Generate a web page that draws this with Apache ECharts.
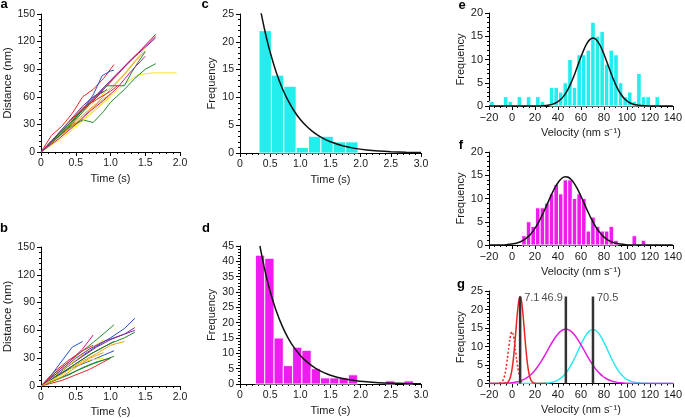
<!DOCTYPE html>
<html><head><meta charset="utf-8">
<script src="https://cdn.jsdelivr.net/npm/echarts@6/dist/echarts.min.js"></script>
<style>html,body{margin:0;padding:0;background:#fff}#c{width:685px;height:418px}</style>
</head><body><div id="c"></div>
<script>
// ---------------- data ----------------
// panel a: distance vs time traces [t (s), distance (nm)]
const aTraces = [
  [[0,0],[0.15,18],[0.3,28],[0.45,42],[0.6,60],[0.75,68],[0.9,80],[1.05,95]],
  [[0,0],[0.2,15],[0.4,30],[0.6,45],[0.8,60],[1.0,76],[1.2,92],[1.4,108],[1.55,120],[1.65,128]],
  [[0,0],[0.2,14],[0.4,30],[0.6,47],[0.8,62],[1.0,78],[1.2,93],[1.4,107],[1.65,124]],
  [[0,0],[0.25,18],[0.5,38],[0.7,54],[0.9,68],[1.1,85],[1.3,101],[1.5,115],[1.65,126]],
  [[0,0],[0.2,14],[0.4,28],[0.6,46],[0.75,62],[0.88,83],[1.0,88],[1.05,89]],
  [[0,0],[0.15,11],[0.3,21],[0.45,30],[0.6,34]],
  [[0,0],[0.2,11],[0.4,23],[0.6,35],[0.8,48],[1.0,61],[1.2,74],[1.4,84],[1.6,86],[1.95,86]],
  [[0,0],[0.2,14],[0.4,28],[0.6,43],[0.8,57],[1.0,70],[1.2,85],[1.35,99],[1.5,113]],
  [[0,0],[0.2,13],[0.4,26],[0.6,40],[0.8,53],[1.0,68],[1.2,84],[1.35,98],[1.5,110]],
  [[0,0],[0.2,14],[0.4,26],[0.6,35],[0.75,32],[0.9,44],[1.0,54],[1.2,68],[1.35,80],[1.5,90],[1.65,96]],
  [[0,0],[0.2,15],[0.4,30],[0.6,46],[0.8,62],[0.95,72],[1.2,72],[1.3,86],[1.4,98],[1.5,109]],
  [[0,0],[0.3,15],[0.5,27],[0.7,40],[0.85,50],[1.0,60]],
  [[0,0],[0.2,16],[0.4,32],[0.6,48],[0.8,57],[1.0,66],[1.1,72]],
  [[0,0],[0.25,16],[0.5,31],[0.7,45],[0.85,55],[1.0,63]],
  [[0,0],[0.3,20],[0.5,35],[0.7,52],[0.85,63],[0.95,68]],
  [[0,0],[0.2,16],[0.4,33],[0.6,50],[0.75,60],[0.9,66]],
  [[0,0],[0.25,14],[0.5,30],[0.7,44],[0.9,56],[1.1,70],[1.3,88],[1.5,104]]
];
const aColors = ['#e3262b','#e3262b','#7b2c9e','#c21f84','#2a4fc4','#2a4fc4','#f2e62a','#f0d830','#f39a1e','#1f8a2e','#1f8a2e','#f2e62a','#d8302a','#f39a1e','#2e6e2e','#6a3aa0','#c21f84'];

// panel b
const bTraces = [
  [[0,0],[0.15,12],[0.3,27],[0.45,42],[0.6,48]],
  [[0,0],[0.2,12],[0.4,22],[0.6,33],[0.8,43],[1.0,52],[1.2,62],[1.35,73]],
  [[0,0],[0.2,14],[0.4,26],[0.6,38],[0.8,50],[1.05,66]],
  [[0,0],[0.2,10],[0.4,22],[0.6,32],[0.8,42],[1.0,50],[1.2,56],[1.35,63]],
  [[0,0],[0.25,12],[0.5,24],[0.75,36],[1.0,46],[1.2,52],[1.35,58]],
  [[0,0],[0.2,14],[0.4,26],[0.6,40],[0.75,55]],
  [[0,0],[0.2,8],[0.4,18],[0.6,27],[0.8,35],[1.0,44],[1.2,48]],
  [[0,0],[0.2,10],[0.4,18],[0.6,24],[0.8,30],[1.05,38]],
  [[0,0],[0.25,8],[0.5,16],[0.75,24],[0.9,28],[1.05,32]],
  [[0,0],[0.3,6],[0.5,12],[0.7,18],[0.9,26],[1.0,30]],
  [[0,0],[0.25,14],[0.5,28],[0.7,40],[0.9,50]],
  [[0,0],[0.3,14],[0.5,24],[0.7,34],[0.9,42],[1.05,48]],
  [[0,0],[0.2,16],[0.4,28],[0.6,38],[0.75,44]],
  [[0,0],[0.3,12],[0.5,22],[0.7,28],[0.9,30]],
  [[0,0],[0.2,6],[0.4,12],[0.6,20],[0.8,26],[1.0,30]],
  [[0,0],[0.3,18],[0.5,30],[0.7,40],[0.9,48],[1.2,56],[1.35,60]],
  [[0,0],[0.3,10],[0.5,20],[0.7,30],[0.9,36]]
];
const bColors = ['#2a4fc4','#2a4fc4','#1f8a2e','#7b2c9e','#1f8a2e','#c21f84','#f39a1e','#2a4fc4','#1f8a2e','#e3262b','#f2e62a','#2e6e2e','#e3262b','#f2e62a','#1f8a2e','#7b2c9e','#f39a1e'];

// panel c histogram (dwell time)
const cBinStart = 0.316, cBinWidth = 0.205;
const cCounts = [22,14,12,1,3,3,2,2];
const cFit = [[0.35,25.2],[0.4,22.57],[0.45,20.21],[0.5,18.11],[0.6,14.53],[0.7,11.66],[0.8,9.36],[0.9,7.51],[1.0,6.03],[1.1,4.84],[1.2,3.88],[1.3,3.12],[1.4,2.5],[1.5,2.01],[1.7,1.29],[1.9,0.833],[2.1,0.536],[2.3,0.345],[2.5,0.222],[2.75,0.128],[3.0,0.074]];

// panel d histogram
const dBinStart = 0.256, dBinWidth = 0.154;
const dCounts = [42,41,15,6,12,11,5,2,2,2,3,0,0,0,1,0,1];
const dFit = [[0.33,45],[0.4,38.17],[0.45,33.94],[0.5,30.18],[0.6,23.86],[0.7,18.86],[0.8,14.91],[0.9,11.79],[1.0,9.32],[1.1,7.37],[1.2,5.83],[1.3,4.6],[1.4,3.64],[1.5,2.88],[1.7,1.8],[1.9,1.125],[2.1,0.703],[2.3,0.439],[2.5,0.275],[2.75,0.153],[3.0,0.085]];

// panels e, f: velocity histograms (bin width 4 nm/s)
const velBinStart = -19.5, velBinWidth = 4;
const eCounts = [1,0,0,2,1,0,2,0,2,0,2,1,0,4,4,3,5,10,4,11,11,12,18,15,16,9,12,11,5,2,3,1,7,2,2,0,2];
const fCounts = [0,0,0,0,0,0,0,2,5,4,8,8,9,11,13,11,14,14,10,11,10,3,6,4,3,3,4,1,0,0,0,2,0,1];
const eFit = [[-20,0],[20,0],[30,0.114],[32.5,0.204],[35,0.351],[37.5,0.582],[40,0.932],[42.5,1.435],[45,2.13],[47.5,3.05],[50,4.21],[52.5,5.6],[55,7.17],[57.5,8.86],[60,10.54],[62.5,12.08],[65,13.35],[67.5,14.22],[70.5,14.6],[72.5,14.43],[75,13.75],[77.5,12.63],[80,11.18],[82.5,9.54],[85,7.84],[87.5,6.21],[90,4.74],[92.5,3.49],[95,2.47],[97.5,1.69],[100,1.11],[102.5,0.705],[105,0.432],[107.5,0.254],[110,0.144],[115,0.042],[120,0.01],[140,0]];
const fFit = [[-20,0],[-10,0.02],[-5,0.076],[0,0.2],[2.5,0.313],[5,0.477],[7.5,0.709],[10,1.029],[12.5,1.457],[15,2.014],[17.5,2.717],[20,3.578],[22.5,4.595],[25,5.761],[27.5,7.049],[30,8.416],[32.5,9.805],[35,11.15],[37.5,12.37],[40,13.39],[42.5,14.15],[45,14.6],[46.9,14.7],[49,14.57],[51.5,14.1],[54,13.32],[56.5,12.28],[59,11.04],[61.5,9.69],[64,8.3],[66.5,6.94],[69,5.66],[71.5,4.51],[74,3.5],[76.5,2.66],[79,1.965],[81.5,1.419],[84,1.0],[86.5,0.687],[89,0.461],[91.5,0.302],[94,0.193],[99,0.073],[105,0.02],[115,0],[140,0]];

// panel g
const gRed = [[-20,0],[-10,0],[-5,0.112],[-4,0.261],[-3,0.566],[-2,1.141],[-1,2.14],[0,3.73],[1,6.04],[2,9.09],[3,12.72],[4,16.54],[5,20.0],[6,22.48],[7.1,23.5],[8,22.81],[9,20.6],[10,17.28],[11,13.48],[12,9.78],[13,6.59],[14,4.13],[15,2.4],[16,1.3],[17,0.655],[18,0.307],[19,0.133],[20,0.05],[22,0.006],[30,0]];
const gRedDotted = [[-11,0.054],[-10,0.142],[-9,0.34],[-8,0.742],[-7,1.476],[-6,2.68],[-5,4.44],[-4,6.72],[-3,9.26],[-2,11.65],[-1,13.37],[0,14],[1,13.37],[2,11.65],[3,9.26],[4,6.72],[5,4.44],[6,2.68],[7,1.476],[8,0.742],[9,0.34],[10,0.142]];
const gPeaks = [7.1, 46.9, 70.5];
const gPeakTop = 23.5;
const gLabelLevel = 23;

// ---------------- chart ----------------
const FONT = 'Liberation Sans, Arial, Helvetica, sans-serif';
const TXT = '#1a1a1a';
const fmt1 = v => v === 0 ? '0' : v.toFixed(1);
const fmtV = v => v < 0 ? '\u2212' + (-v) : '' + v;

function axis(gridIndex, o) {
  return Object.assign({
    type: 'value', gridIndex,
    axisLine: { show: true, onZero: false, lineStyle: { color: '#000', width: 1 } },
    axisTick: { show: true, length: 4, lineStyle: { color: '#000', width: 1 } },
    minorTick: { show: true, splitNumber: 5, length: 2, lineStyle: { color: '#000', width: 1 } },
    splitLine: { show: false },
    axisLabel: { color: TXT, fontSize: 10.5, fontFamily: FONT, margin: 6 },
    nameLocation: 'middle',
    nameTextStyle: { color: TXT, fontSize: 11, fontFamily: FONT }
  }, o);
}
const lblT = { color: TXT, fontSize: 10.5, fontFamily: FONT, margin: 6, formatter: fmt1 };
const lblV = { color: TXT, fontSize: 11, fontFamily: FONT, margin: 6, formatter: fmtV };
const lblF = { color: TXT, fontSize: 11, fontFamily: FONT, margin: 6 };
const minorV = { show: true, splitNumber: 4, length: 2, lineStyle: { color: '#000' } };
const VNAME = 'Velocity (nm s\u207B\u00B9)';

const xAxes = [
  axis(0, { min: 0, max: 2, interval: 0.5, name: 'Time (s)', nameGap: 21, axisLabel: lblT }),
  axis(1, { min: 0, max: 2, interval: 0.5, name: 'Time (s)', nameGap: 20, axisLabel: lblT }),
  axis(2, { min: 0, max: 3, interval: 0.5, name: 'Time (s)', nameGap: 21, axisLabel: lblT }),
  axis(3, { min: 0, max: 3, interval: 0.5, name: 'Time (s)', nameGap: 21, axisLabel: lblT }),
  axis(4, { min: -20, max: 140, interval: 20, name: VNAME, nameGap: 21, minorTick: minorV, axisLabel: lblV }),
  axis(5, { min: -20, max: 140, interval: 20, name: VNAME, nameGap: 21, minorTick: minorV, axisLabel: lblV }),
  axis(6, { min: -20, max: 140, interval: 20, name: VNAME, nameGap: 21, minorTick: minorV, axisLabel: lblV })
];
const yAxes = [
  axis(0, { min: 0, max: 150, interval: 30, name: 'Distance (nm)', nameGap: 27, nameTextStyle: { color: TXT, fontSize: 11.5, fontFamily: FONT } }),
  axis(1, { min: 0, max: 150, interval: 30, name: 'Distance (nm)', nameGap: 27, nameTextStyle: { color: TXT, fontSize: 11.5, fontFamily: FONT } }),
  axis(2, { min: 0, max: 25, interval: 5, name: 'Frequency', nameGap: 23 }),
  axis(3, { min: 0, max: 45, interval: 5, name: 'Frequency', nameGap: 23 }),
  axis(4, { min: 0, max: 20, interval: 5, name: 'Frequency', nameGap: 20, axisLabel: lblF }),
  axis(5, { min: 0, max: 20, interval: 5, name: 'Frequency', nameGap: 20, axisLabel: lblF }),
  axis(6, { min: 0, max: 25, interval: 5, name: 'Frequency', nameGap: 20, axisLabel: lblF })
];

const series = [];
aTraces.forEach((t, i) => series.push({ type: 'line', xAxisIndex: 0, yAxisIndex: 0, data: t, showSymbol: false, lineStyle: { width: 1, color: aColors[i] }, silent: true }));
bTraces.forEach((t, i) => series.push({ type: 'line', xAxisIndex: 1, yAxisIndex: 1, data: t, showSymbol: false, lineStyle: { width: 1, color: bColors[i] }, silent: true }));

function hist(idx, start, width, counts, color) {
  const data = counts.map((c, i) => [start + i * width, start + (i + 1) * width, c]).filter(d => d[2] > 0);
  return {
    type: 'custom', xAxisIndex: idx, yAxisIndex: idx, data, silent: true,
    renderItem: (params, api) => {
      const p0 = api.coord([api.value(0), api.value(2)]);
      const p1 = api.coord([api.value(1), 0]);
      return { type: 'rect', shape: { x: p0[0], y: p0[1], width: p1[0] - p0[0], height: p1[1] - p0[1] },
        style: { fill: color, stroke: '#ffffff', lineWidth: 0.9 } };
    }
  };
}
function curve(idx, data, color, width, type) {
  return { type: 'line', xAxisIndex: idx, yAxisIndex: idx, data, showSymbol: false, smooth: 0.25,
    lineStyle: { width, color, type: type || 'solid' }, silent: true, z: 3 };
}
const CYAN = '#22eeee', MAG = '#ee1cee';
series.push(hist(2, cBinStart, cBinWidth, cCounts, CYAN));
series.push(curve(2, cFit, '#111', 1.5));
series.push(hist(3, dBinStart, dBinWidth, dCounts, MAG));
series.push(curve(3, dFit, '#111', 1.5));
series.push(hist(4, velBinStart, velBinWidth, eCounts, CYAN));
series.push(curve(4, eFit, '#111', 1.5));
series.push(hist(5, velBinStart, velBinWidth, fCounts, MAG));
series.push(curve(5, fFit, '#111', 1.5));
series.push(curve(6, eFit, '#2ee6ee', 1.5));
series.push(curve(6, fFit, '#e020e0', 1.5));
series.push(curve(6, gRed, '#ea2424', 1.5));
series.push(curve(6, gRedDotted, '#ea2424', 1.5, [2, 2]));
gPeaks.forEach(p => series.push({ type: 'line', xAxisIndex: 6, yAxisIndex: 6, data: [[p, 0], [p, gPeakTop]], showSymbol: false,
  lineStyle: { width: 2.5, color: '#333' }, silent: true, z: 4 }));
series.push({ type: 'scatter', xAxisIndex: 6, yAxisIndex: 6, symbolSize: 0, silent: true, z: 5,
  data: gPeaks.map((p, i) => ({ value: [p, gLabelLevel], label: { position: i === 1 ? 'left' : 'right', distance: i === 1 ? 3 : 4 } })),
  label: { show: true, formatter: p => p.value[0].toFixed(1), color: TXT, fontSize: 11, fontFamily: FONT } });

const letters = [['a', 4, 4], ['b', 4, 228], ['c', 205, 4], ['d', 206, 228], ['e', 462, 5], ['f', 461, 145], ['g', 461, 284]];
const graphic = letters.map(l => ({ type: 'text', x: l[1], y: l[2], style: { text: l[0], font: 'bold 13px ' + FONT, fill: '#000', textAlign: 'center', textVerticalAlign: 'middle' } }));

const chart = echarts.init(document.getElementById('c'), null, { renderer: 'canvas' });
chart.setOption({
  animation: false,
  backgroundColor: '#fff',
  grid: [
    { left: 41, top: 14, width: 139, height: 138 },
    { left: 41, top: 247, width: 139, height: 139 },
    { left: 240, top: 14, width: 181, height: 139 },
    { left: 240, top: 246, width: 181, height: 138 },
    { left: 489, top: 13, width: 186.5, height: 93 },
    { left: 489, top: 152, width: 186.5, height: 93 },
    { left: 489, top: 291, width: 186.5, height: 92.5 }
  ],
  xAxis: xAxes,
  yAxis: yAxes,
  series,
  graphic
});
</script></body></html>
